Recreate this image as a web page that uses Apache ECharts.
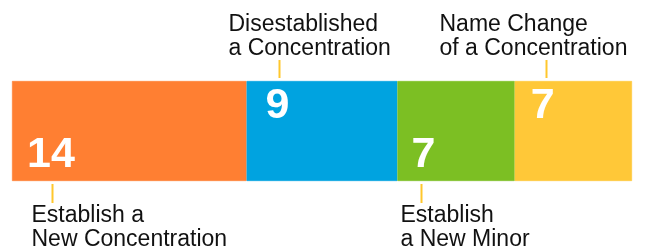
<!DOCTYPE html>
<html>
<head>
<meta charset="utf-8">
<style>
  html, body { margin: 0; padding: 0; background: #fff; }
  #chart { width: 645px; height: 247px; }
</style>
<script src="https://cdn.jsdelivr.net/npm/echarts@6/dist/echarts.min.js"></script>
</head>
<body>
<div id="chart"></div>
<script>
const categories = ['Changes']
const seriesNames = ['Establish a New Concentration', 'Disestablished a Concentration', 'Establish a New Minor', 'Name Change of a Concentration']
const values = [14, 9, 7, 7]
const annotations = ['Establish a\nNew Concentration', 'Disestablished\na Concentration', 'Establish\na New Minor', 'Name Change\nof a Concentration']

const COLORS = ['#FF7F32', '#00A3E0', '#7CBF23', '#FFC838']
const TICK_COLOR = '#FFC72C'
const GRID_TOP = 81
const GRID_HEIGHT = 100
// label placement inside each segment: [dx, dy]
const LABEL_POS = [[15, 53], [19, 4], [14, 53], [16, 4]]
// annotation: side, tick offset from segment start, text offset from tick
const ANNO = [
  { side: 'bottom', tick: 40, text: -21 },
  { side: 'top', tick: 32, text: -51 },
  { side: 'bottom', tick: 24, text: -21 },
  { side: 'top', tick: 31, text: -107 }
]

const chart = echarts.init(document.getElementById('chart'))
const total = values.reduce((a, b) => a + b, 0)

const option = {
  animation: false,
  grid: { left: 12, right: 13, top: GRID_TOP, height: GRID_HEIGHT },
  xAxis: { type: 'value', min: 0, max: total, show: false },
  yAxis: { type: 'category', data: categories, show: false },
  series: values.map((v, i) => ({
    name: seriesNames[i],
    type: 'bar',
    stack: 'total',
    barWidth: '100%',
    data: [v],
    itemStyle: { color: COLORS[i], borderColor: COLORS[i], borderWidth: 0.6 },
    label: {
      show: true,
      position: LABEL_POS[i],
      align: 'left',
      verticalAlign: 'top',
      formatter: '{c}',
      color: '#fff',
      fontFamily: 'Liberation Sans',
      fontWeight: 'bold',
      fontSize: 43,
      lineHeight: 43
    }
  }))
}
chart.setOption(option)

// annotations placed from the value axis
const graphics = []
let start = 0
values.forEach((v, i) => {
  const x0 = chart.convertToPixel({ gridIndex: 0 }, [start, 0])[0]
  const a = ANNO[i]
  const tx = Math.round(x0 + a.tick) + 0.5
  if (a.side === 'top') {
    graphics.push({ type: 'line', shape: { x1: tx, y1: GRID_TOP - 21, x2: tx, y2: GRID_TOP - 3 }, style: { stroke: TICK_COLOR, lineWidth: 2 } })
    graphics.push({ type: 'text', style: { text: annotations[i], x: tx + a.text, y: 13, fill: '#111', fontFamily: 'Liberation Sans', fontSize: 23, lineHeight: 24, verticalAlign: 'top' } })
  } else {
    const yb = GRID_TOP + GRID_HEIGHT
    graphics.push({ type: 'line', shape: { x1: tx, y1: yb + 3, x2: tx, y2: yb + 22 }, style: { stroke: TICK_COLOR, lineWidth: 2 } })
    graphics.push({ type: 'text', style: { text: annotations[i], x: tx + a.text, y: 204, fill: '#111', fontFamily: 'Liberation Sans', fontSize: 23, lineHeight: 24, verticalAlign: 'top' } })
  }
  start += v
})
chart.setOption({ graphic: graphics })
</script>
</body>
</html>
